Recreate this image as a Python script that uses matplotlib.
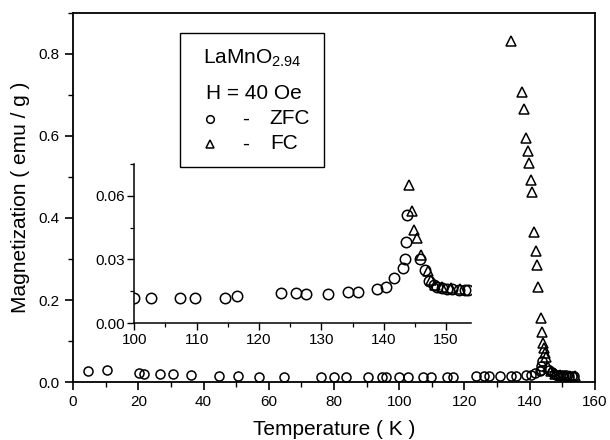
import matplotlib
matplotlib.use("Agg")
import matplotlib.pyplot as plt
from matplotlib.patches import Rectangle
from matplotlib.ticker import MultipleLocator, FormatStrFormatter

plt.rcParams['font.family'] = ['Liberation Sans', 'DejaVu Sans']
plt.rcParams['mathtext.fontset'] = 'custom'
plt.rcParams['mathtext.rm'] = 'Liberation Sans'
plt.rcParams['mathtext.it'] = 'Liberation Sans:italic'

# ZFC data (used both in main plot and inset)
zfc_T = [4.5, 10.3, 20.3, 21.8, 26.7, 30.5, 36.1, 44.9, 50.7, 57.0, 64.8,
         75.9, 80.1, 83.6, 90.5, 94.8, 95.9,
         100.0, 102.6, 107.3, 109.8, 114.6, 116.5, 123.5, 126.0, 127.6, 131.0,
         134.3, 135.8, 139.0, 140.3, 141.7, 143.1, 143.4, 143.5, 143.8,
         145.8, 146.7, 147.3, 148.0, 148.6, 149.3, 150.2, 151.0, 152.0, 153.0, 153.6]
zfc_M = [0.028, 0.029, 0.022, 0.0195, 0.019, 0.019, 0.016, 0.0146, 0.014, 0.0122, 0.0115,
         0.012, 0.012, 0.012, 0.012, 0.012, 0.012,
         0.012, 0.012, 0.012, 0.012, 0.0118, 0.0127, 0.014, 0.014, 0.0138, 0.0138,
         0.0148, 0.0148, 0.016, 0.017, 0.021, 0.026, 0.030, 0.038, 0.051,
         0.030, 0.025, 0.020, 0.018, 0.017, 0.0165, 0.016, 0.016, 0.0158, 0.0155, 0.0155]

# FC data, main panel
fc_T = [134.4, 137.5, 138.2, 139.0, 139.5, 139.7, 140.3, 140.7, 141.2, 141.8,
        142.3, 142.6, 143.4, 143.8, 144.1, 144.4, 144.8, 145.1, 145.6, 146.4,
        147.7, 149.2, 150.7, 152.3, 153.8]
fc_M = [0.832, 0.708, 0.665, 0.596, 0.563, 0.533, 0.493, 0.463, 0.365, 0.320,
        0.285, 0.232, 0.157, 0.123, 0.096, 0.084, 0.070, 0.060, 0.037, 0.028,
        0.0195, 0.017, 0.015, 0.015, 0.015]

# FC data, inset
fc_in_T = [144.1, 144.5, 144.9, 145.3, 146.0, 147.1, 147.6, 148.3, 149.4, 150.8, 152.3]
fc_in_M = [0.065, 0.053, 0.044, 0.040, 0.032, 0.0245, 0.0205, 0.018, 0.0168, 0.0165, 0.016]

fig = plt.figure(figsize=(6.1, 4.4), dpi=100)
ax = fig.add_axes([0.1197, 0.1318, 0.8557, 0.8387])

mk = dict(linestyle='none', markerfacecolor='none', markeredgecolor='black',
          markeredgewidth=1.1, markersize=6.5)
ax.plot(zfc_T, zfc_M, marker='o', **mk)
ax.plot(fc_T, fc_M, marker='^', **mk)

ax.set_xlim(0, 160)
ax.set_ylim(0, 0.9)
ax.xaxis.set_major_locator(MultipleLocator(20))
ax.xaxis.set_minor_locator(MultipleLocator(10))
ax.yaxis.set_major_locator(MultipleLocator(0.2))
ax.yaxis.set_minor_locator(MultipleLocator(0.1))
ax.yaxis.set_major_formatter(FormatStrFormatter('%.1f'))
ax.tick_params(which='major', length=6, width=1.2, labelsize=11, direction='out')
ax.tick_params(which='minor', length=3.5, width=1.0, direction='out')
for s in ax.spines.values():
    s.set_linewidth(1.3)
ax.set_xlabel('Temperature ( K )', fontsize=15, labelpad=8)
ax.set_ylabel('Magnetization ( emu / g )', fontsize=15, labelpad=6)

# legend box drawn by hand
ax.add_patch(Rectangle((0.205, 0.583), 0.276, 0.363, transform=ax.transAxes,
                       facecolor='white', edgecolor='black', linewidth=1.0, zorder=5))
ax.text(0.343, 0.878, 'LaMnO$_{2.94}$', transform=ax.transAxes, fontsize=15,
        ha='center', va='center', zorder=6)
ax.text(0.347, 0.783, 'H = 40 Oe', transform=ax.transAxes, fontsize=15,
        ha='center', va='center', zorder=6)
ax.plot([0.262], [0.713], marker='o', transform=ax.transAxes, zorder=6,
        **dict(mk, markersize=5.5))
ax.plot([0.262], [0.645], marker='^', transform=ax.transAxes, zorder=6,
        **dict(mk, markersize=5.5))
ax.text(0.331, 0.713, '-', transform=ax.transAxes, fontsize=15, ha='center', va='center', zorder=6)
ax.text(0.331, 0.645, '-', transform=ax.transAxes, fontsize=15, ha='center', va='center', zorder=6)
ax.text(0.377, 0.713, 'ZFC', transform=ax.transAxes, fontsize=15, ha='left', va='center', zorder=6)
ax.text(0.377, 0.645, 'FC', transform=ax.transAxes, fontsize=15, ha='left', va='center', zorder=6)

# inset
axin = fig.add_axes([0.2202, 0.2659, 0.5519, 0.3614])
axin.patch.set_alpha(0)
axin.plot(zfc_T, zfc_M, marker='o', **dict(mk, markersize=7.5))
axin.plot(fc_in_T, fc_in_M, marker='^', **dict(mk, markersize=7.5))
axin.set_xlim(100, 154)
axin.set_ylim(0, 0.075)
axin.spines['top'].set_visible(False)
axin.spines['right'].set_visible(False)
axin.xaxis.set_major_locator(MultipleLocator(10))
axin.xaxis.set_minor_locator(MultipleLocator(5))
axin.yaxis.set_major_locator(MultipleLocator(0.03))
axin.yaxis.set_minor_locator(MultipleLocator(0.015))
axin.yaxis.set_major_formatter(FormatStrFormatter('%.2f'))
axin.tick_params(which='major', length=5, width=1.0, labelsize=11, direction='out', pad=2)
axin.tick_params(which='minor', length=3, width=0.9, direction='out')
for s in axin.spines.values():
    s.set_linewidth(1.1)

fig.savefig('out.png', dpi=100)
